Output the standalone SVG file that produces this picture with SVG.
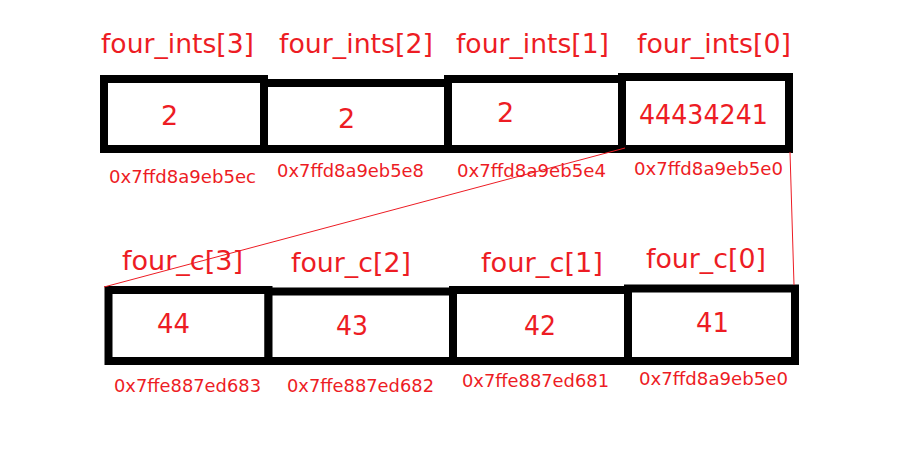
<svg xmlns="http://www.w3.org/2000/svg" width="900" height="458" viewBox="0 0 900 458">
<style>
.cell{fill:#fff;stroke:#000;stroke-width:8}
.lbl{font-family:"DejaVu Sans","Liberation Sans",sans-serif;font-size:26px;fill:#ED1C24}
.val{font-family:"DejaVu Sans","Liberation Sans",sans-serif;font-size:27px;fill:#ED1C24}
.addr{font-family:"DejaVu Sans","Liberation Sans",sans-serif;font-size:18px;fill:#ED1C24}
.conn{stroke:#ED1C24;stroke-width:1;fill:none}
</style>
<rect width="900" height="458" fill="#fff"/>
<g id="four_ints_3">
<rect class="cell" x="104" y="79" width="160" height="70"/>
<text class="lbl" x="101" y="53" textLength="153" lengthAdjust="spacingAndGlyphs">four_ints[3]</text>
<text class="val" x="161" y="125">2</text>
<text class="addr" x="109" y="183" textLength="147" lengthAdjust="spacingAndGlyphs">0x7ffd8a9eb5ec</text>
</g>
<g id="four_ints_2">
<rect class="cell" x="264" y="83" width="184" height="66"/>
<text class="lbl" x="279" y="53" textLength="154" lengthAdjust="spacingAndGlyphs">four_ints[2]</text>
<text class="val" x="338" y="128">2</text>
<text class="addr" x="277" y="177" textLength="147" lengthAdjust="spacingAndGlyphs">0x7ffd8a9eb5e8</text>
</g>
<g id="four_ints_1">
<rect class="cell" x="448" y="79" width="174" height="70"/>
<text class="lbl" x="456" y="53" textLength="153" lengthAdjust="spacingAndGlyphs">four_ints[1]</text>
<text class="val" x="497" y="122">2</text>
<text class="addr" x="457" y="177" textLength="149" lengthAdjust="spacingAndGlyphs">0x7ffd8a9eb5e4</text>
</g>
<g id="four_ints_0">
<rect class="cell" x="622" y="77" width="167" height="72"/>
<text class="lbl" x="637" y="53" textLength="154" lengthAdjust="spacingAndGlyphs">four_ints[0]</text>
<text class="val" x="639" y="124" textLength="129" lengthAdjust="spacingAndGlyphs">44434241</text>
<text class="addr" x="634" y="175" textLength="149" lengthAdjust="spacingAndGlyphs">0x7ffd8a9eb5e0</text>
</g>
<g id="four_c_3">
<rect class="cell" x="108.5" y="290" width="160" height="71"/>
<text class="lbl" x="122" y="270" textLength="121" lengthAdjust="spacingAndGlyphs">four_c[3]</text>
<text class="val" x="157" y="333" textLength="33" lengthAdjust="spacingAndGlyphs">44</text>
<text class="addr" x="114" y="392" textLength="147" lengthAdjust="spacingAndGlyphs">0x7ffe887ed683</text>
</g>
<g id="four_c_2">
<rect class="cell" x="268.5" y="291.5" width="186" height="69.5"/>
<text class="lbl" x="291" y="272" textLength="120" lengthAdjust="spacingAndGlyphs">four_c[2]</text>
<text class="val" x="336" y="335" textLength="32" lengthAdjust="spacingAndGlyphs">43</text>
<text class="addr" x="287" y="392" textLength="147" lengthAdjust="spacingAndGlyphs">0x7ffe887ed682</text>
</g>
<g id="four_c_1">
<rect class="cell" x="453" y="290" width="175" height="71"/>
<text class="lbl" x="481" y="272" textLength="122" lengthAdjust="spacingAndGlyphs">four_c[1]</text>
<text class="val" x="524" y="335" textLength="32" lengthAdjust="spacingAndGlyphs">42</text>
<text class="addr" x="462" y="387" textLength="147" lengthAdjust="spacingAndGlyphs">0x7ffe887ed681</text>
</g>
<g id="four_c_0">
<rect class="cell" x="628" y="288.5" width="167" height="72.5"/>
<text class="lbl" x="646" y="268" textLength="120" lengthAdjust="spacingAndGlyphs">four_c[0]</text>
<text class="val" x="696" y="332" textLength="33" lengthAdjust="spacingAndGlyphs">41</text>
<text class="addr" x="639" y="385" textLength="149" lengthAdjust="spacingAndGlyphs">0x7ffd8a9eb5e0</text>
</g>
<g id="connectors">
<line class="conn" x1="625" y1="148" x2="104" y2="287"/>
<line class="conn" x1="790" y1="152" x2="794" y2="285"/>
</g>
</svg>
